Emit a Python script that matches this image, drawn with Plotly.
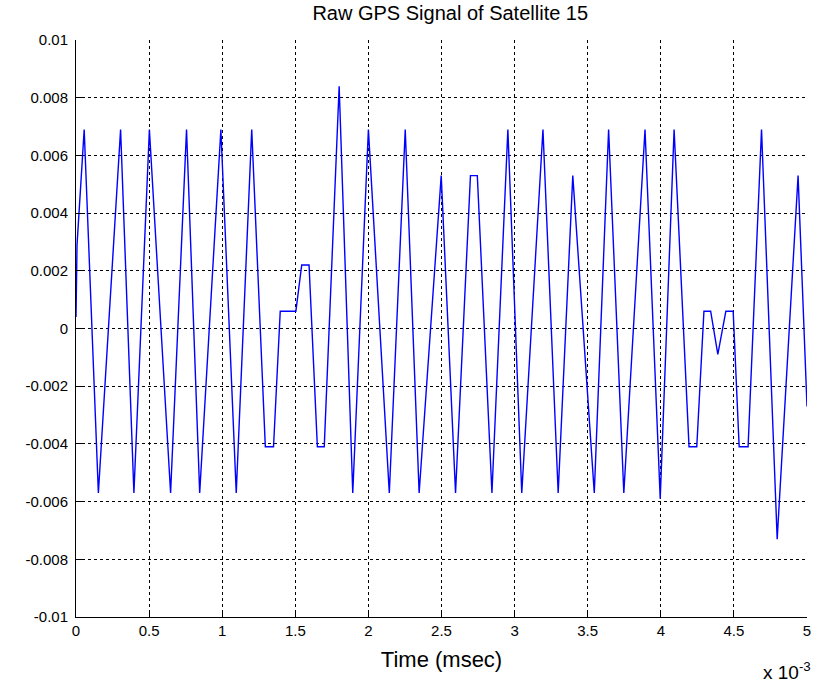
import plotly.graph_objects as go

# Time in units of 1e-3 msec
times = [0.000, 0.007, 0.056, 0.153, 0.305, 0.396, 0.502, 0.647, 0.756, 0.846,
         0.991, 1.096, 1.202, 1.295, 1.351, 1.397, 1.504, 1.544, 1.594, 1.651,
         1.698, 1.800, 1.893, 2.000, 2.143, 2.252, 2.347, 2.498, 2.596, 2.698,
         2.745, 2.845, 2.954, 3.049, 3.194, 3.298, 3.398, 3.545, 3.643, 3.747,
         3.892, 3.996, 4.091, 4.193, 4.246, 4.295, 4.341, 4.390, 4.445, 4.495,
         4.536, 4.597, 4.689, 4.796, 4.939, 5.000]
signal = [0.0004, 0.0029, 0.0069, -0.0057, 0.0069, -0.0057, 0.0069, -0.0057, 0.0069, -0.0057,
          0.0069, -0.0057, 0.0069, -0.0041, -0.0041, 0.0006, 0.0006, 0.0022, 0.0022, -0.0041,
          -0.0041, 0.0084, -0.0057, 0.0069, -0.0057, 0.0069, -0.0057, 0.0053, -0.0057, 0.0053,
          0.0053, -0.0057, 0.0069, -0.0057, 0.0069, -0.0057, 0.0053, -0.0057, 0.0069, -0.0057,
          0.0069, -0.0059, 0.0069, -0.0041, -0.0041, 0.0006, 0.0006, -0.0009, 0.0006, 0.0006,
          -0.0041, -0.0041, 0.0069, -0.0073, 0.0053, -0.0027]

x_ticks = [0, 0.5, 1, 1.5, 2, 2.5, 3, 3.5, 4, 4.5, 5]
x_tick_labels = ["0", "0.5", "1", "1.5", "2", "2.5", "3", "3.5", "4", "4.5", "5"]
y_ticks = [0.01, 0.008, 0.006, 0.004, 0.002, 0, -0.002, -0.004, -0.006, -0.008, -0.01]
y_tick_labels = ["0.01", "0.008", "0.006", "0.004", "0.002", "0",
                 "-0.002", "-0.004", "-0.006", "-0.008", "-0.01"]

FONT = "Liberation Sans, Arial, sans-serif"

fig = go.Figure()
fig.add_trace(go.Scatter(x=times, y=signal, mode="lines",
                         line=dict(color="#0000ff", width=1.4), showlegend=False))

fig.update_layout(
    width=817, height=688,
    margin=dict(l=76, r=6, t=40, b=71),
    paper_bgcolor="white", plot_bgcolor="white",
    font=dict(family=FONT, size=15, color="black"),
    title=dict(text="Raw GPS Signal of Satellite 15", x=0.512, xref="paper",
               y=1 - 13 / 688, yref="container", xanchor="center", yanchor="middle",
               font=dict(family=FONT, size=20, color="black")),
)
fig.update_xaxes(
    range=[0, 5], tickvals=x_ticks, ticktext=x_tick_labels,
    showgrid=True, gridcolor="black", gridwidth=1, griddash="3px,3px",
    showline=True, linecolor="black", linewidth=1, mirror=False,
    ticks="inside", ticklen=6, tickcolor="black", zeroline=False,
    title=dict(text="Time (msec)", standoff=13, font=dict(family=FONT, size=22)),
    tickfont=dict(family=FONT, size=15),
)
fig.update_yaxes(
    range=[-0.01, 0.01], tickvals=y_ticks, ticktext=y_tick_labels,
    showgrid=True, gridcolor="black", gridwidth=1, griddash="3px,3px",
    showline=True, linecolor="black", linewidth=1, mirror=False,
    ticks="inside", ticklen=6, tickcolor="black", zeroline=False,
    tickfont=dict(family=FONT, size=15), ticklabelstandoff=4,
)
fig.add_annotation(text="x 10<sup>-3</sup>", xref="paper", yref="paper",
                   x=1.008, y=-0.118, xanchor="right", yanchor="bottom", showarrow=False,
                   font=dict(family=FONT, size=19, color="black"))

fig.write_html("out.html")
